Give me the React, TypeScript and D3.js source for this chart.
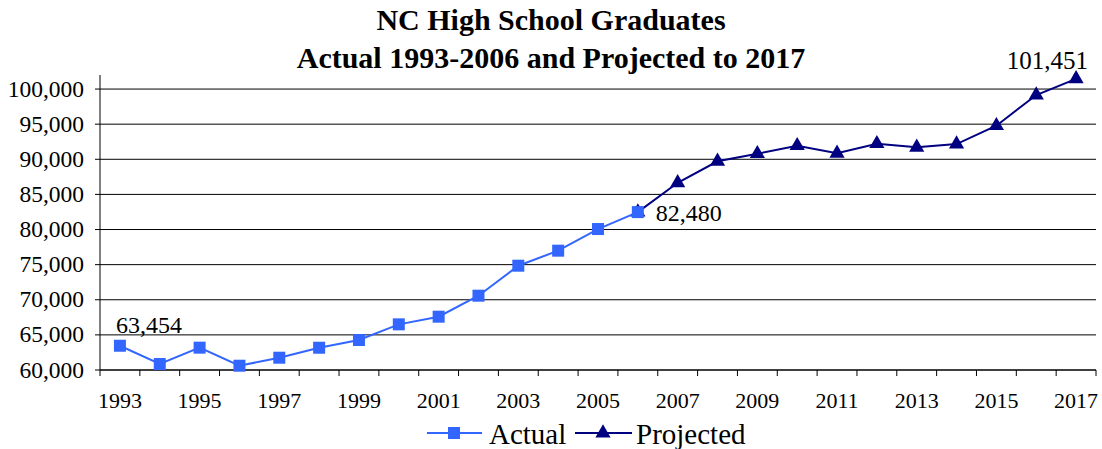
import React from "react";
import * as d3 from "d3";

// Graduating class years and counts
const years = [
  1993, 1994, 1995, 1996, 1997, 1998, 1999, 2000, 2001, 2002, 2003, 2004, 2005,
  2006, 2007, 2008, 2009, 2010, 2011, 2012, 2013, 2014, 2015, 2016, 2017,
];
const actualYears = [1993, 1994, 1995, 1996, 1997, 1998, 1999, 2000, 2001, 2002, 2003, 2004, 2005, 2006];
const actualValues = [63454, 60850, 63180, 60610, 61750, 63170, 64270, 66500, 67590, 70580, 74850, 76990, 80070, 82480];
const projectedYears = [2006, 2007, 2008, 2009, 2010, 2011, 2012, 2013, 2014, 2015, 2016, 2017];
const projectedValues = [82480, 86660, 89710, 90790, 91930, 90850, 92220, 91700, 92170, 94780, 99150, 101451];
const yTicks = [60000, 65000, 70000, 75000, 80000, 85000, 90000, 95000, 100000];
const xLabelYears = [1993, 1995, 1997, 1999, 2001, 2003, 2005, 2007, 2009, 2011, 2013, 2015, 2017];

const W = 1102;
const H = 449;
const plot = { left: 100, right: 1096, top: 75, bottom: 370 };
const ACTUAL = "#3366ff";
const PROJ = "#000080";
const FONT = "'Liberation Serif', 'Times New Roman', serif";

export default function App() {
  const x = d3
    .scaleBand<number>()
    .domain(years)
    .range([plot.left, plot.right])
    .padding(0);
  const cx = (yr: number) => (x(yr) as number) + x.bandwidth() / 2;
  const y = d3.scaleLinear().domain([60000, 102000]).range([plot.bottom, plot.top]);
  const fmt = d3.format(",");

  const actual = actualYears.map((yr, i) => ({ yr, v: actualValues[i] }));
  const projected = projectedYears.map((yr, i) => ({ yr, v: projectedValues[i] }));
  const line = d3
    .line<{ yr: number; v: number }>()
    .x((d) => cx(d.yr))
    .y((d) => y(d.v));

  const tri = d3.symbol().type(d3.symbolTriangle).size(100)() as string;
  const sq = 12;

  const boundaries = [...years.map((yr) => x(yr) as number), plot.right];

  const first = actual[0];
  const lastActual = actual[actual.length - 1];
  const lastProj = projected[projected.length - 1];

  return (
    <svg
      width={W}
      height={H}
      style={{ position: "absolute", left: 0, top: 0, background: "#fff" }}
      fontFamily={FONT}
    >
      {/* title */}
      <text x={551} y={30} textAnchor="middle" fontSize={30} fontWeight="bold">
        NC High School Graduates
      </text>
      <text x={551} y={68} textAnchor="middle" fontSize={30} fontWeight="bold">
        Actual 1993-2006 and Projected to 2017
      </text>

      {/* gridlines */}
      {yTicks.map((t) => (
        <line key={t} x1={plot.left} x2={plot.right} y1={y(t)} y2={y(t)} stroke="#000" strokeWidth={1} />
      ))}

      {/* y axis */}
      <line x1={plot.left} x2={plot.left} y1={plot.top} y2={plot.bottom} stroke="#000" />
      {yTicks.map((t) => (
        <g key={t}>
          <line x1={plot.left - 5} x2={plot.left} y1={y(t)} y2={y(t)} stroke="#000" />
          <text x={84} y={y(t) + 7.5} textAnchor="end" fontSize={23.5}>
            {fmt(t)}
          </text>
        </g>
      ))}

      {/* x axis */}
      <line x1={plot.left} x2={plot.right} y1={plot.bottom} y2={plot.bottom} stroke="#000" />
      {boundaries.map((bx, i) => (
        <line key={i} x1={bx} x2={bx} y1={plot.bottom} y2={plot.bottom + 6} stroke="#000" />
      ))}
      {xLabelYears.map((yr) => (
        <text key={yr} x={cx(yr)} y={408} textAnchor="middle" fontSize={22}>
          {yr}
        </text>
      ))}

      {/* projected series */}
      <path d={line(projected) as string} fill="none" stroke={PROJ} strokeWidth={2} />
      {projected.map((d) => (
        <path key={d.yr} d={tri} transform={`translate(${cx(d.yr)},${y(d.v)})`} fill={PROJ} />
      ))}

      {/* actual series */}
      <path d={line(actual) as string} fill="none" stroke={ACTUAL} strokeWidth={2} />
      {actual.map((d) => (
        <rect key={d.yr} x={cx(d.yr) - sq / 2} y={y(d.v) - sq / 2} width={sq} height={sq} fill={ACTUAL} />
      ))}

      {/* value labels */}
      <text x={cx(first.yr) - 4} y={y(first.v) - 13} fontSize={24}>
        {fmt(first.v)}
      </text>
      <text x={cx(lastActual.yr) + 18} y={y(lastActual.v) + 9} fontSize={24}>
        {fmt(lastActual.v)}
      </text>
      <text x={cx(lastProj.yr) + 12} y={y(lastProj.v) - 10} textAnchor="end" fontSize={25}>
        {fmt(lastProj.v)}
      </text>

      {/* legend */}
      <line x1={427} x2={482} y1={433} y2={433} stroke={ACTUAL} strokeWidth={2} />
      <rect x={454 - sq / 2} y={433 - sq / 2} width={sq} height={sq} fill={ACTUAL} />
      <text x={489} y={444} fontSize={29}>
        Actual
      </text>
      <line x1={575} x2={632} y1={433} y2={433} stroke={PROJ} strokeWidth={2} />
      <path d={tri} transform="translate(603,433)" fill={PROJ} />
      <text x={636} y={444} fontSize={29}>
        Projected
      </text>
    </svg>
  );
}
